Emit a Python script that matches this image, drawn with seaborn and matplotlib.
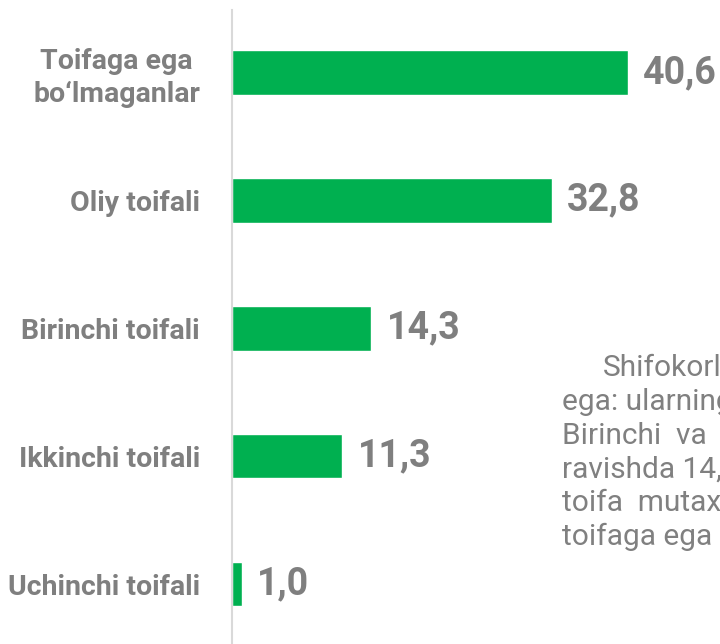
"""Horizontal bar chart: doctors by qualification category."""

import matplotlib.pyplot as plt
import pandas as pd
import seaborn as sns

categories = [
    "Toifaga ega\nbo‘lmaganlar",
    "Oliy toifali",
    "Birinchi toifali",
    "Ikkinchi toifali",
    "Uchinchi toifali",
]
shares = [40.6, 32.8, 14.3, 11.3, 1.0]

note_lines = [
    "Shifokorlarning",
    "ega: ularning",
    "Birinchi  va  ikkinchi",
    "ravishda 14,3",
    "toifa  mutaxassislari",
    "toifaga ega",
]

GREEN = "#00B050"
GREY = "#7F7F7F"

sns.set_theme(style="white")
plt.rcParams["font.family"] = ["Roboto", "DejaVu Sans"]


def main() -> None:
    df = pd.DataFrame({"category": categories, "share": shares})

    fig = plt.figure(figsize=(7.2, 6.44), dpi=100)
    fig.patch.set_facecolor("white")
    ax = fig.add_axes([232 / 720, 0, 488 / 720, 634 / 644])

    sns.barplot(data=df, x="share", y="category", color=GREEN, width=0.35,
                saturation=1, ax=ax)

    ax.set_xlim(0, 488 / 9.75)
    ax.set_ylim(4.469, -0.488)
    ax.set_xlabel("")
    ax.set_ylabel("")
    ax.set_xticks([])

    ax.tick_params(axis="y", length=0, pad=23)
    for label in ax.get_yticklabels():
        label.set_fontsize(20.5)
        label.set_fontweight("bold")
        label.set_color(GREY)
        label.set_multialignment("center")
        label.set_linespacing(1.25)

    for side in ["top", "right", "bottom"]:
        ax.spines[side].set_visible(False)
    ax.spines["left"].set_color("#D9D9D9")
    ax.spines["left"].set_linewidth(1.5)

    labels = [f"{v:.1f}".replace(".", ",") for v in shares]
    ax.bar_label(ax.containers[0], labels=labels, padding=11, fontsize=27,
                 fontweight="bold", color=GREY)

    # paragraph on the right runs off the edge of the picture, as in the source
    y = 368
    for i, line in enumerate(note_lines):
        x = 603 if i == 0 else 562
        fig.text(x / 720, 1 - y / 644, line, ha="left", va="center",
                 fontsize=21.5, color="#808080")
        y += 33.8

    fig.savefig("out.png", dpi=100)
    plt.close(fig)


if __name__ == "__main__":
    main()
